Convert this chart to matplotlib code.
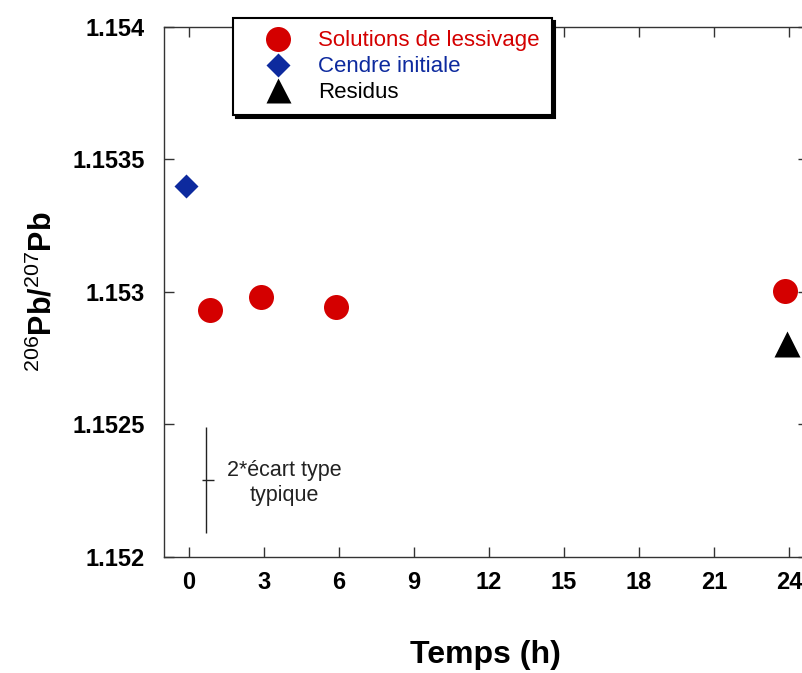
import matplotlib
matplotlib.use("Agg")
import matplotlib.pyplot as plt
from matplotlib.lines import Line2D

plt.rcParams["font.family"] = ["Liberation Sans", "DejaVu Sans"]
plt.rcParams["mathtext.fontset"] = "custom"
plt.rcParams["mathtext.rm"] = "Liberation Sans"
plt.rcParams["mathtext.bf"] = "Liberation Sans:bold"

# ── data ─────────────────────────────────────────────────────────────────────
leach_t = [0.85, 2.9, 5.9, 23.85]
leach_r = [1.152932, 1.152981, 1.152943, 1.153004]
ash_t = [-0.1]
ash_r = [1.15340]
resid_t = [23.9]
resid_r = [1.152805]

err_t = 0.67
err_r = 1.15229
err_2sd = 0.0002

xticks = [0, 3, 6, 9, 12, 15, 18, 21, 24]
yticks = [1.152, 1.1525, 1.153, 1.1535, 1.154]
ytick_labels = ["1.152", "1.1525", "1.153", "1.1535", "1.154"]

RED = "#d40000"
BLUE = "#0d2a9e"

fig = plt.figure(figsize=(8.03, 6.73), dpi=100)
ax = fig.add_axes([0.2042, 0.1724, 0.8018, 0.7875])

ax.plot(leach_t, leach_r, "o", color=RED, ms=18, mec="none", zorder=3)
ax.plot(ash_t, ash_r, "D", color=BLUE, ms=12.5, mec="none", zorder=3)
ax.plot(resid_t, resid_r, "^", color="black", ms=19, mec="none", zorder=3)

# typical 2 sigma bar
ax.errorbar([err_t], [err_r], yerr=err_2sd, fmt="none", ecolor="#222222",
            elinewidth=1, capsize=0)
ax.plot([err_t + 0.1], [err_r], "_", color="#222222", ms=8, mew=1)
ax.text(3.8, err_r - 0.00001, "2*écart type\ntypique", ha="center", va="center",
        fontsize=15.5, color="#222222", linespacing=1.25)

ax.set_xlim(-1.0, 24.75)
ax.set_ylim(1.152, 1.154)
ax.set_xticks(xticks)
ax.set_yticks(yticks)
ax.set_yticklabels(ytick_labels)
ax.tick_params(direction="in", length=7, width=1, color="#333333",
               top=True, right=True, labelsize=17, pad=10)
ax.tick_params(axis="y", pad=14)
for lab in ax.get_xticklabels() + ax.get_yticklabels():
    lab.set_fontweight("bold")
for sp in ax.spines.values():
    sp.set_color("#333333")
    sp.set_linewidth(1)

ax.set_xlabel("Temps (h)", fontsize=23, fontweight="bold", labelpad=33)
ax.set_ylabel(r"$^{206}$Pb/$^{207}$Pb", fontsize=22, fontweight="bold",
              labelpad=10)

handles = [
    Line2D([], [], ls="none", marker="o", color=RED, ms=18, mec="none"),
    Line2D([], [], ls="none", marker="D", color=BLUE, ms=12.5, mec="none"),
    Line2D([], [], ls="none", marker="^", color="black", ms=18, mec="none"),
]
labels = ["Solutions de lessivage", "Cendre initiale", "Residus"]
leg = fig.legend(handles, labels, loc="upper left",
                 bbox_to_anchor=(0.290, 0.973), borderaxespad=0,
                 fontsize=16, frameon=True, fancybox=False,
                 edgecolor="black", framealpha=1,
                 shadow={"color": "black", "alpha": 1},
                 borderpad=0.55, handlelength=3.0, handletextpad=0.3,
                 labelspacing=0.22)
leg.get_frame().set_linewidth(1.5)
for txt, c in zip(leg.get_texts(), [RED, BLUE, "black"]):
    txt.set_color(c)

fig.savefig("out.png", dpi=100)
